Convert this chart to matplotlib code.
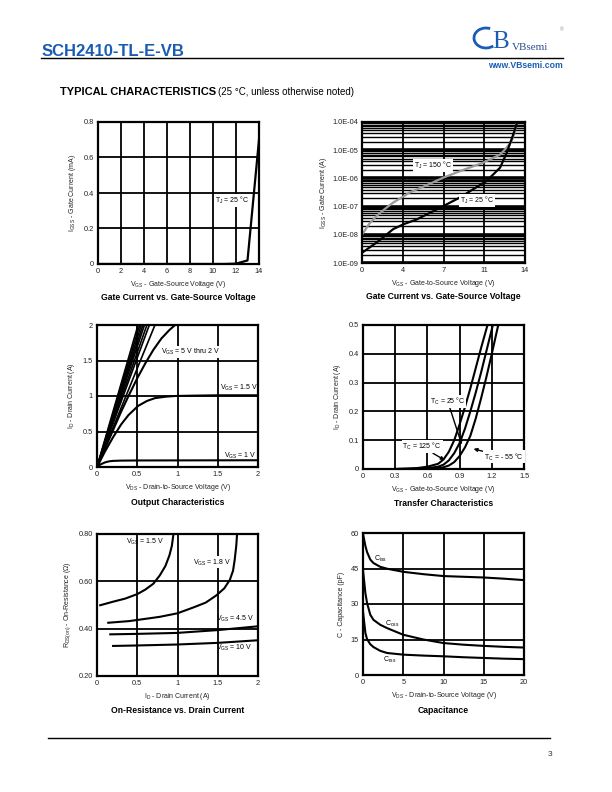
import numpy as np
import matplotlib
matplotlib.use("Agg")
from matplotlib import pyplot as plt
from matplotlib.patches import Arc
from matplotlib.ticker import FixedLocator, LogLocator, NullFormatter

plt.rcParams["font.family"] = ["Liberation Sans", "DejaVu Sans"]
plt.rcParams["mathtext.default"] = "regular"

W, H = 612, 792

# --- data ---
# gate current (linear), mA
igss_v = [0, 11, 12, 13, 14]
igss_ma = [0, 0.0, 0.002, 0.02, 0.70]

# gate current (log), A
ig150_v = [0.0, 0.6, 1.26, 2.0, 2.69, 3.4, 4.12, 5.5, 7.0, 8.7, 10.4, 11.86, 12.4, 12.86, 13.1, 13.3]
ig150_a = [1.0e-8, 2.4e-8, 4.7e-8, 8.5e-8, 1.4e-7, 2.1e-7, 3.2e-7, 5.6e-7, 1.07e-6, 2.0e-6, 3.6e-6, 7.0e-6, 1.2e-5, 2.1e-5, 4.2e-5, 1.0e-4]
ig25_v = [0.0, 1.3, 2.69, 3.6, 4.7, 6.4, 7.0, 8.4, 10.7, 11.86, 12.43, 13.0, 13.3]
ig25_a = [2.3e-9, 5.5e-9, 1.6e-8, 2.4e-8, 3.5e-8, 7.9e-8, 1.05e-7, 2.1e-7, 8.1e-7, 2.4e-6, 8.1e-6, 3.7e-5, 9.0e-5]

# output characteristics
out_lin_end = [0.51, 0.53, 0.55, 0.57, 0.59, 0.62, 0.65, 0.72]  # Vds where line reaches 2 A
out2_v = [0, 0.1, 0.2, 0.3, 0.4, 0.5, 0.6, 0.7, 0.8, 0.9, 0.97]
out2_i = [0, 0.26, 0.52, 0.78, 1.02, 1.25, 1.46, 1.65, 1.81, 1.93, 2.0]
out15_v = [0, 0.1, 0.2, 0.3, 0.39, 0.51, 0.62, 0.72, 0.85, 0.97, 1.2, 1.5, 2.0]
out15_i = [0, 0.22, 0.42, 0.60, 0.73, 0.86, 0.93, 0.97, 0.99, 1.0, 1.005, 1.01, 1.01]
out1_v = [0, 0.05, 0.1, 0.15, 0.2, 0.3, 0.5, 1.0, 2.0]
out1_i = [0, 0.04, 0.065, 0.08, 0.086, 0.09, 0.092, 0.093, 0.095]

# transfer characteristics
tr125_v = [0.3, 0.4, 0.5, 0.6, 0.7, 0.75, 0.8, 0.85, 0.9, 0.95, 1.0, 1.05, 1.1, 1.16]
tr125_i = [0, 0.001, 0.003, 0.008, 0.018, 0.033, 0.06, 0.1, 0.155, 0.215, 0.28, 0.35, 0.42, 0.5]
tr25_v = [0.3, 0.5, 0.6, 0.7, 0.75, 0.8, 0.85, 0.9, 0.95, 1.0, 1.05, 1.1, 1.15, 1.21]
tr25_i = [0, 0.001, 0.003, 0.008, 0.015, 0.03, 0.055, 0.09, 0.14, 0.2, 0.265, 0.335, 0.41, 0.5]
trm55_v = [0.3, 0.6, 0.7, 0.75, 0.8, 0.85, 0.9, 0.95, 1.0, 1.05, 1.1, 1.15, 1.2, 1.26]
trm55_i = [0, 0.001, 0.003, 0.006, 0.012, 0.024, 0.045, 0.075, 0.115, 0.175, 0.245, 0.32, 0.4, 0.5]

# on-resistance
r15_i = [0.04, 0.2, 0.35, 0.5, 0.6, 0.7, 0.78, 0.85, 0.9, 0.93, 0.95]
r15_r = [0.499, 0.514, 0.527, 0.546, 0.565, 0.59, 0.625, 0.665, 0.71, 0.75, 0.80]
r18_i = [0.14, 0.4, 0.78, 1.0, 1.2, 1.35, 1.48, 1.58, 1.65, 1.69, 1.71, 1.73, 1.74]
r18_r = [0.425, 0.432, 0.45, 0.465, 0.49, 0.51, 0.54, 0.57, 0.606, 0.645, 0.69, 0.75, 0.80]
r45_i = [0.165, 0.5, 0.99, 1.5, 2.0]
r45_r = [0.376, 0.378, 0.382, 0.394, 0.41]
r10_i = [0.2, 0.5, 0.99, 1.5, 2.0]
r10_r = [0.327, 0.329, 0.333, 0.34, 0.351]

# capacitance
c_v = [0, 0.3, 0.5, 0.9, 1.3, 2.15, 3, 5, 7.5, 10, 12.5, 15, 17.5, 20]
ciss = [59.7, 54.5, 52.0, 48.8, 47.3, 45.7, 44.9, 43.6, 42.6, 41.8, 41.5, 41.2, 40.7, 40.1]
coss = [44.3, 34.5, 30.5, 25.5, 23.3, 21.2, 19.8, 17.0, 15.0, 13.5, 12.8, 12.3, 11.9, 11.6]
crss = [26.8, 17.7, 15.2, 13.0, 11.8, 10.2, 9.3, 8.6, 8.2, 7.9, 7.5, 7.2, 6.9, 6.7]

WHITE = dict(facecolor="white", edgecolor="none", pad=0.6)


def make_axes(fig, left, right, top, bottom):
    ax = fig.add_axes([left / W, 1 - bottom / H, (right - left) / W, (bottom - top) / H])
    for s in ax.spines.values():
        s.set_linewidth(1.6)
        s.set_color("black")
    ax.tick_params(length=0, labelsize=5.3, pad=3, colors="#222222")
    return ax


def grid(ax):
    ax.grid(True, color="black", linewidth=1.3)
    ax.set_axisbelow(True)


def finish(ax, xlabel, ylabel, title, ypad=4, tpos=-0.235):
    ax.set_xlabel(xlabel, fontsize=5, labelpad=3, color="#222222")
    ax.set_ylabel(ylabel, fontsize=5, labelpad=ypad, color="#222222")
    ax.text(0.5, tpos, title, transform=ax.transAxes, ha="center", va="center",
            fontsize=6.2, fontweight="bold")


fig = plt.figure(figsize=(W / 100, H / 100), dpi=100)

# header
fig.text(42 / W, 1 - 52 / H, "SCH2410-TL-E-VB", fontsize=12, color="#1a5cb4",
         ha="left", va="center", fontweight="bold")
fig.add_artist(plt.Line2D([41 / W, 563 / W], [1 - 58 / H, 1 - 58 / H], color="black", linewidth=1.0))
fig.text(512 / W, 1 - 48 / H, "VBsemi", fontsize=8, color="#2a4f8f", family="Liberation Serif",
         ha="left", va="center")
fig.text(563 / W, 1 - 65 / H, "www.VBsemi.com", fontsize=6.2, color="#1a5cb4",
         ha="right", va="center", fontweight="bold")
fig.add_artist(Arc((486 / W, 1 - 38 / H), 24 / W, 20 / H, theta1=60, theta2=320,
                   color="#1a5cb4", linewidth=2.0, transform=fig.transFigure))
fig.text(501 / W, 1 - 42 / H, "B", fontsize=18, color="#1a5cb4", family="Liberation Serif",
         ha="center", va="center")
fig.text(562 / W, 1 - 30 / H, "\u00ae", fontsize=3.5, color="#888888", ha="center", va="center")
fig.text(60 / W, 1 - 92 / H, "TYPICAL CHARACTERISTICS", fontsize=8, fontweight="bold",
         ha="left", va="center")
fig.text(218 / W, 1 - 92 / H, "(25 \u00b0C, unless otherwise noted)", fontsize=7,
         ha="left", va="center")

# footer
fig.add_artist(plt.Line2D([48 / W, 550 / W], [1 - 738 / H, 1 - 738 / H], color="black", linewidth=1.0))
fig.text(550 / W, 1 - 755 / H, "3", fontsize=6, ha="center", va="center", color="#333333")

# 1: gate current linear
ax = make_axes(fig, 98, 259, 122, 264)
grid(ax)
ax.plot(igss_v, igss_ma, color="black", linewidth=1.6)
ax.set_xlim(0, 14)
ax.set_ylim(0, 0.8)
ax.set_xticks(range(0, 15, 2))
ax.set_yticks([0, 0.2, 0.4, 0.6, 0.8])
ax.set_yticklabels(["0", "0.2", "0.4", "0.6", "0.8"])
ax.text(11.7, 0.36, "T$_J$ = 25 \u00b0C", fontsize=5, ha="center", va="center", bbox=WHITE)
finish(ax, "V$_{GS}$ - Gate-Source Voltage (V)", "I$_{GSS}$ - Gate Current (mA)",
       "Gate Current vs. Gate-Source Voltage")

# 2: gate current log
ax = make_axes(fig, 362, 525, 122, 263)
ax.set_yscale("log")
ax.set_ylim(1e-9, 1e-4)
ax.set_xlim(0, 14)
ax.yaxis.set_major_locator(FixedLocator([1e-9, 1e-8, 1e-7, 1e-6, 1e-5, 1e-4]))
ax.yaxis.set_minor_locator(LogLocator(base=10, subs=np.arange(2, 10)))
ax.yaxis.set_minor_formatter(NullFormatter())
ax.set_yticklabels(["1.0E-09", "1.0E-08", "1.0E-07", "1.0E-06", "1.0E-05", "1.0E-04"])
ax.set_xticks([0, 3.5, 7, 10.5, 14])
ax.set_xticklabels(["0", "4", "7", "11", "14"])
ax.tick_params(which="minor", length=0)
ax.grid(True, which="major", axis="y", color="black", linewidth=2.6)
ax.grid(True, which="minor", axis="y", color="black", linewidth=1.0)
ax.grid(True, which="major", axis="x", color="black", linewidth=1.3)
ax.set_axisbelow(True)
ax.plot(ig150_v, ig150_a, color="#999999", linewidth=1.6)
ax.plot(ig25_v, ig25_a, color="black", linewidth=1.6)
ax.text(6.1, 2.8e-6, "T$_J$ = 150 \u00b0C", fontsize=5, ha="center", va="center", bbox=WHITE)
ax.text(9.9, 1.6e-7, "T$_J$ = 25 \u00b0C", fontsize=5, ha="center", va="center", bbox=WHITE)
finish(ax, "V$_{GS}$ - Gate-to-Source Voltage (V)", "I$_{GSS}$ - Gate Current (A)",
       "Gate Current vs. Gate-Source Voltage", ypad=2)

# 3: output characteristics
ax = make_axes(fig, 97, 258, 325, 467)
grid(ax)
for xe in out_lin_end:
    ax.plot([0, xe], [0, 2.0], color="black", linewidth=1.2)
ax.plot(out2_v, out2_i, color="black", linewidth=1.5)
ax.plot(out15_v, out15_i, color="black", linewidth=1.5)
ax.plot(out1_v, out1_i, color="black", linewidth=1.5)
ax.set_xlim(0, 2)
ax.set_ylim(0, 2)
ax.set_xticks([0, 0.5, 1, 1.5, 2])
ax.set_xticklabels(["0", "0.5", "1", "1.5", "2"])
ax.set_yticks([0, 0.5, 1, 1.5, 2])
ax.set_yticklabels(["0", "0.5", "1", "1.5", "2"])
ax.text(0.79, 1.62, "V$_{GS}$ = 5 V thru 2 V", fontsize=5, ha="left", va="center", bbox=WHITE)
ax.text(1.53, 1.12, "V$_{GS}$ = 1.5 V", fontsize=5, ha="left", va="center")
ax.text(1.58, 0.16, "V$_{GS}$ = 1 V", fontsize=5, ha="left", va="center")
finish(ax, "V$_{DS}$ - Drain-to-Source Voltage (V)", "I$_D$ - Drain Current (A)",
       "Output Characteristics", tpos=-0.25)

# 4: transfer characteristics
ax = make_axes(fig, 363, 524, 325, 469)
grid(ax)
ax.plot(tr125_v, tr125_i, color="black", linewidth=1.5)
ax.plot(tr25_v, tr25_i, color="black", linewidth=1.5)
ax.plot(trm55_v, trm55_i, color="black", linewidth=1.5)
ax.set_xlim(0, 1.5)
ax.set_ylim(0, 0.5)
ax.set_xticks([0, 0.3, 0.6, 0.9, 1.2, 1.5])
ax.set_xticklabels(["0", "0.3", "0.6", "0.9", "1.2", "1.5"])
ax.set_yticks([0, 0.1, 0.2, 0.3, 0.4, 0.5])
ax.set_yticklabels(["0", "0.1", "0.2", "0.3", "0.4", "0.5"])
arrow = dict(arrowstyle="-|>", color="black", linewidth=1.0, mutation_scale=5, shrinkA=0, shrinkB=0)
ax.annotate("T$_C$ = 25 \u00b0C", xy=(0.92, 0.085), xytext=(0.79, 0.234), fontsize=5,
            ha="center", va="center", arrowprops=arrow, bbox=WHITE)
ax.annotate("T$_C$ = 125 \u00b0C", xy=(0.76, 0.031), xytext=(0.55, 0.077), fontsize=5,
            ha="center", va="center", arrowprops=arrow, bbox=WHITE)
ax.annotate("T$_C$ = - 55 \u00b0C", xy=(1.03, 0.07), xytext=(1.315, 0.042), fontsize=5,
            ha="center", va="center", arrowprops=arrow, bbox=WHITE)
finish(ax, "V$_{GS}$ - Gate-to-Source Voltage (V)", "I$_D$ - Drain Current (A)",
       "Transfer Characteristics", tpos=-0.24)

# 5: on-resistance
ax = make_axes(fig, 97, 258, 534, 676)
grid(ax)
ax.plot(r15_i, r15_r, color="black", linewidth=1.5)
ax.plot(r18_i, r18_r, color="black", linewidth=1.5)
ax.plot(r45_i, r45_r, color="black", linewidth=1.5)
ax.plot(r10_i, r10_r, color="black", linewidth=1.5)
ax.set_xlim(0, 2)
ax.set_ylim(0.2, 0.8)
ax.set_xticks([0, 0.5, 1, 1.5, 2])
ax.set_xticklabels(["0", "0.5", "1", "1.5", "2"])
ax.set_yticks([0.2, 0.4, 0.6, 0.8])
ax.set_yticklabels(["0.20", "0.40", "0.60", "0.80"])
ax.text(0.6, 0.765, "V$_{GS}$ = 1.5 V", fontsize=5, ha="center", va="center")
ax.text(1.43, 0.68, "V$_{GS}$ = 1.8 V", fontsize=5, ha="center", va="center", bbox=WHITE)
ax.text(1.48, 0.44, "V$_{GS}$ = 4.5 V", fontsize=5, ha="left", va="center")
ax.text(1.48, 0.317, "V$_{GS}$ = 10 V", fontsize=5, ha="left", va="center")
finish(ax, "I$_D$ - Drain Current (A)", "R$_{DS(on)}$ - On-Resistance (\u03a9)",
       "On-Resistance vs. Drain Current", tpos=-0.245)

# 6: capacitance
ax = make_axes(fig, 363, 524, 533, 675)
grid(ax)
ax.plot(c_v, ciss, color="black", linewidth=1.5)
ax.plot(c_v, coss, color="black", linewidth=1.5)
ax.plot(c_v, crss, color="black", linewidth=1.5)
ax.set_xlim(0, 20)
ax.set_ylim(0, 60)
ax.set_xticks([0, 5, 10, 15, 20])
ax.set_yticks([0, 15, 30, 45, 60])
ax.text(2.2, 48.9, "C$_{iss}$", fontsize=5, ha="center", va="center")
ax.text(3.6, 21.6, "C$_{oss}$", fontsize=5, ha="center", va="center")
ax.text(3.3, 6.4, "C$_{rss}$", fontsize=5, ha="center", va="center")
finish(ax, "V$_{DS}$ - Drain-to-Source Voltage (V)", "C - Capacitance (pF)", "Capacitance",
       tpos=-0.25)

plt.savefig("out.png", dpi=100)
